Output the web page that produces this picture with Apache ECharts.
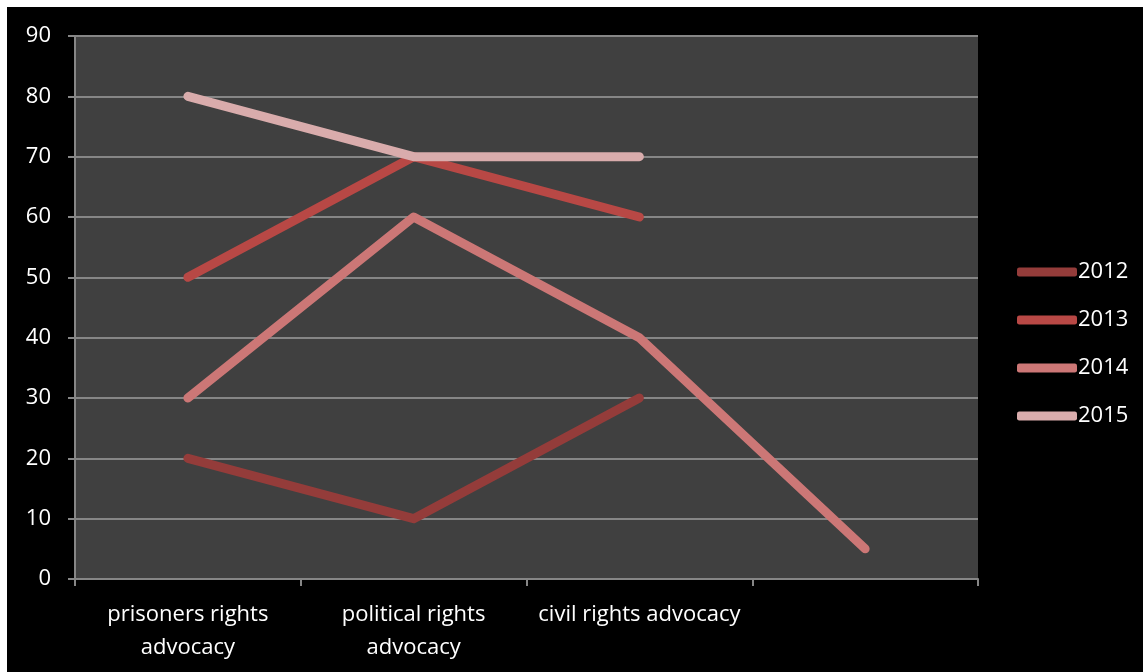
<!DOCTYPE html>
<html><head><meta charset="utf-8">
<script src="https://cdn.jsdelivr.net/npm/echarts@6/dist/echarts.min.js"></script>
<style>
html,body{margin:0;padding:0;background:#fff;width:1143px;height:672px;overflow:hidden;}
#c{position:absolute;left:7px;top:7px;width:1136px;height:665px;background:#000;}
</style></head>
<body><div id="c"></div>
<script>
const categories = ['prisoners rights\nadvocacy', 'political rights\nadvocacy', 'civil rights advocacy', ''];
const seriesNames = ['2012', '2013', '2014', '2015'];
const s2012 = [20, 10, 30, null];
const s2013 = [50, 70, 60, null];
const s2014 = [30, 60, 40, 5];
const s2015 = [80, 70, 70, null];
const colors = ['#943C3A', '#B84845', '#CC7776', '#D9ACAC'];
const values = [s2012, s2013, s2014, s2015];

const chart = echarts.init(document.getElementById('c'));
const font = "'Open Sans', 'Liberation Sans', sans-serif";
chart.setOption({
  backgroundColor: '#000',
  animation: false,
  grid: {left: 68, top: 29, right: 165, bottom: 93, show: true, backgroundColor: '#404040', borderWidth: 0},
  legend: {
    orient: 'vertical', left: 1010, top: 253, padding: 0,
    itemWidth: 60, itemHeight: 9, itemGap: 24,
    icon: 'roundRect',
    textStyle: {color: '#fff', fontSize: 22, fontFamily: font, lineHeight: 24, padding: [0,0,0,-4]},
    data: seriesNames
  },
  xAxis: {
    type: 'category', data: categories, boundaryGap: true,
    axisLine: {show: true, lineStyle: {color: '#868686', width: 2}},
    axisTick: {show: true, length: 7, lineStyle: {color: '#868686', width: 2}},
    axisLabel: {color: '#fff', fontSize: 22, fontFamily: font, lineHeight: 33, margin: 19, interval: 0},
    splitLine: {show: false}
  },
  yAxis: {
    type: 'value', min: 0, max: 90, interval: 10,
    axisLine: {show: true, lineStyle: {color: '#868686', width: 2}},
    axisTick: {show: true, length: 7, lineStyle: {color: '#868686', width: 2}},
    axisLabel: {color: '#fff', fontSize: 22, fontFamily: font, margin: 24},
    splitLine: {show: true, lineStyle: {color: '#868686', width: 2}}
  },
  series: seriesNames.map((n, i) => ({
    name: n, type: 'line', data: values[i], showSymbol: false, symbol: 'none',
    color: colors[i],
    lineStyle: {color: colors[i], width: 9, cap: 'round', join: 'round'}
  }))
});
</script></body></html>
